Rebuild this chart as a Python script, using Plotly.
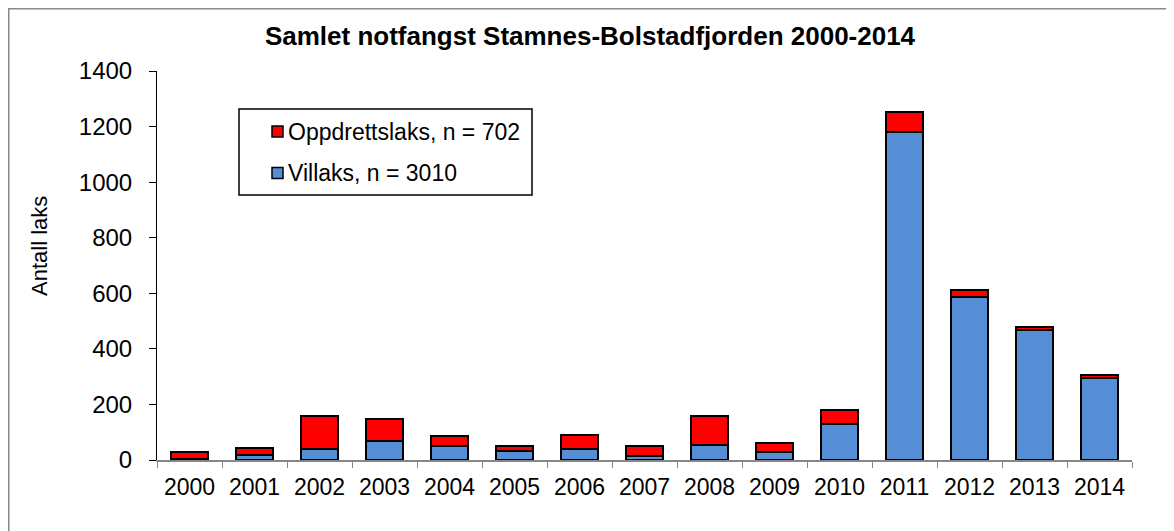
import plotly.graph_objects as go

years = [str(y) for y in range(2000, 2015)]
villaks = [4, 18, 41, 67, 49, 32, 41, 15, 53, 29, 131, 1181, 585, 468, 295]
oppdrett = [24, 27, 119, 82, 37, 20, 50, 37, 107, 33, 48, 72, 27, 9, 10]
title_text = "Samlet notfangst Stamnes-Bolstadfjorden 2000-2014"
name_villaks = "Villaks, n = 3010"
name_oppdrett = "Oppdrettslaks, n = 702"
y_title = "Antall laks"
y_ticks = [0, 200, 400, 600, 800, 1000, 1200, 1400]

col_villaks = "#558ED5"
col_oppdrett = "#FF0000"

FONT = "Liberation Sans, Arial, sans-serif"
OFF = 8  # page body margin
W, H = 1174 - OFF, 531 - OFF
# plot area in reference page pixels
L, R, T, B = 157, 1132, 71, 460
pw, ph = R - L, B - T


def px(x):
    return (x - L) / pw


def py(y):
    return (B - y) / ph


fig = go.Figure()
fig.add_trace(go.Bar(x=years, y=villaks, name=name_villaks, showlegend=False,
                     marker=dict(color=col_villaks, line=dict(color="black", width=2))))
fig.add_trace(go.Bar(x=years, y=oppdrett, name=name_oppdrett, showlegend=False,
                     marker=dict(color=col_oppdrett, line=dict(color="black", width=2))))

annotations = [
    dict(text=y_title, textangle=-90, x=px(39), y=py(246), xref="paper", yref="paper",
         showarrow=False, font=dict(size=22, family=FONT), xanchor="center", yanchor="middle"),
]
shapes = [
    dict(type="rect", xref="paper", yref="paper", x0=px(239), x1=px(532), y0=py(195), y1=py(109),
         line=dict(color="black", width=1.5)),
    dict(type="rect", xref="paper", yref="paper", x0=px(OFF + 0.75), x1=px(1167), y0=py(560), y1=py(OFF + 0.75),
         line=dict(color="#888888", width=1.5)),
]
# manual legend entries
for name, col, yc in [(name_oppdrett, col_oppdrett, 131.5), (name_villaks, col_villaks, 173)]:
    shapes.append(dict(type="rect", xref="paper", yref="paper", x0=px(272), x1=px(283),
                       y0=py(yc + 5.5), y1=py(yc - 5.5), fillcolor=col,
                       line=dict(color="black", width=1.5)))
    annotations.append(dict(text=name, x=px(286), y=py(yc), xref="paper", yref="paper",
                            showarrow=False, xanchor="left", yanchor="middle",
                            font=dict(size=23, family=FONT)))

fig.update_layout(
    width=W, height=H,
    margin=dict(l=L - OFF, r=W - (R - OFF), t=T - OFF, b=H - (B - OFF)),
    barmode="stack", bargap=0.42,
    paper_bgcolor="white", plot_bgcolor="white",
    font=dict(family=FONT, color="black"),
    showlegend=False,
    title=dict(text="<b>" + title_text + "</b>", x=(590 - OFF) / W, xref="container", xanchor="center",
               y=1 - (36 - OFF) / H, yref="container", yanchor="middle",
               font=dict(size=26, family=FONT, color="black")),
    xaxis=dict(type="category", showline=True, linecolor="#868686", linewidth=1.5,
               ticks="outside", tickson="boundaries", ticklen=6, tickcolor="#868686",
               tickfont=dict(size=23, family=FONT), showgrid=False, ticklabelstandoff=6),
    yaxis=dict(range=[0, 1400], tickvals=y_ticks, showline=True, linecolor="black", linewidth=1,
               ticks="outside", ticklen=7, tickcolor="black", showgrid=False, zeroline=False,
               tickfont=dict(size=24, family=FONT), ticklabelstandoff=12),
    annotations=annotations,
    shapes=shapes,
)

fig.write_html("out.html")
